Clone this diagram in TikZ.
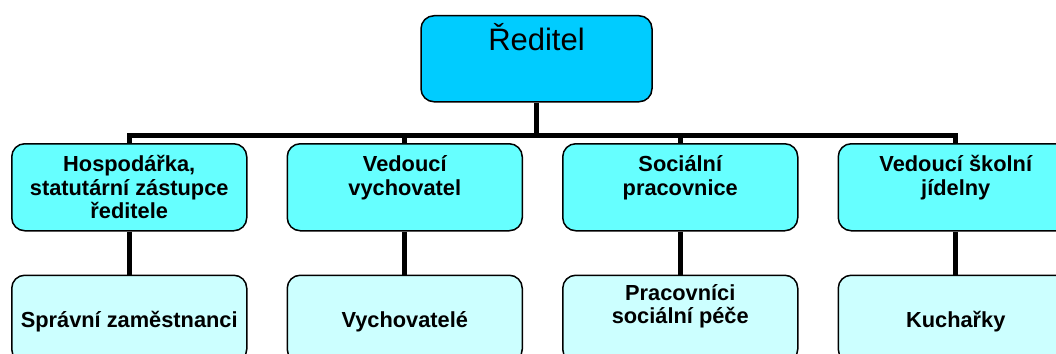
\documentclass[tikz,border=0pt]{standalone}
\usepackage{fontspec}
\setmainfont{Liberation Sans}
\usepackage{xcolor}
\usetikzlibrary{positioning}

\definecolor{dircyan}{HTML}{00CCFF}
\definecolor{midcyan}{HTML}{66FFFF}
\definecolor{lowcyan}{HTML}{CCFFFF}

% text block, first baseline #1 below the top of the box
\newcommand{\orgtext}[2]{\parbox[t][87pt][t]{235pt}{\centering\rule{0pt}{#1}#2}}

\tikzset{
  orgbox/.style={draw=black,line width=1.5pt,rounded corners=13pt,inner sep=0pt},
  midbox/.style={orgbox,fill=midcyan,font=\bfseries\fontsize{21.8}{23.5}\selectfont},
  lowbox/.style={orgbox,fill=lowcyan,font=\bfseries\fontsize{21.8}{23.5}\selectfont},
  conn/.style={line width=5pt,black}
}

\begin{document}
\begin{tikzpicture}[x=1pt,y=-1pt]
\useasboundingbox (0,0) rectangle (1056,353);
\clip (0,0) rectangle (1056,353);

\node[orgbox,fill=dircyan,anchor=north,font=\fontsize{31}{34}\selectfont] (dir) at (536.5,15)
  {\parbox[t][86pt][t]{231pt}{\centering\rule{0pt}{35pt}Ředitel}};

\node[midbox,anchor=north west] (h1) at (11,143) {\orgtext{28pt}{Hospodářka,\\statutární zástupce\\ředitele}};
\node[midbox,right=39pt of h1] (h2) {\orgtext{28pt}{Vedoucí\\vychovatel}};
\node[midbox,right=39pt of h2] (h3) {\orgtext{28pt}{Sociální\\pracovnice}};
\node[midbox,right=39pt of h3] (h4) {\orgtext{28pt}{Vedoucí školní\\jídelny}};

\node[lowbox,below=43pt of h1] (l1) {\orgtext{52pt}{Správní zaměstnanci}};
\node[lowbox,below=43pt of h2] (l2) {\orgtext{52pt}{Vychovatelé}};
\node[lowbox,below=43pt of h3] (l3) {\orgtext{25pt}{Pracovníci\\sociální péče}};
\node[lowbox,below=43pt of h4] (l4) {\orgtext{52pt}{Kuchařky}};

\coordinate (bus) at (536.5,135.5);
\draw[conn] (dir.south) -- (bus);
\draw[conn] (h1.north) |- (bus) -| (h4.north);
\draw[conn] (h2.north |- bus) -- (h2.north);
\draw[conn] (h3.north |- bus) -- (h3.north);
\foreach \i in {1,...,4}
  \draw[conn] (h\i.south) -- (l\i.north);
\end{tikzpicture}
\end{document}
